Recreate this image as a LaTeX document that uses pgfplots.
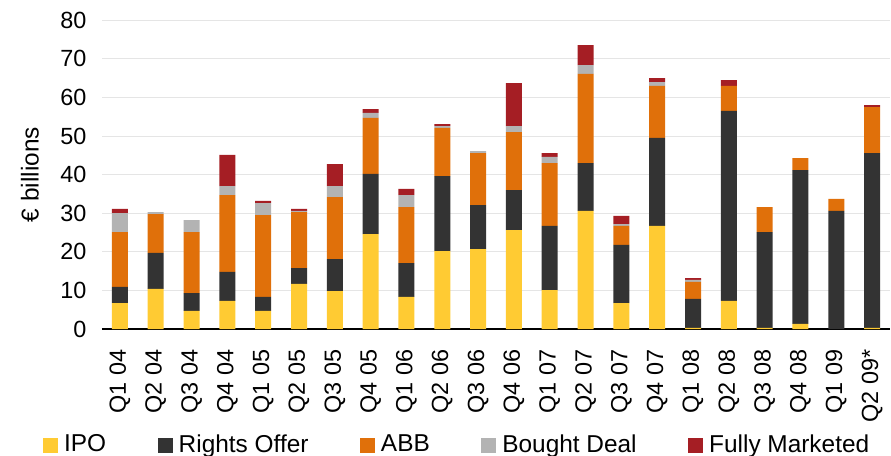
\documentclass[border=0pt]{standalone}
\usepackage{pgfplots}
\pgfplotsset{compat=1.18}
\usepackage{pgfplotstable}
\usepackage{fontspec}
\setmainfont{Liberation Sans}
\definecolor{cipo}{HTML}{FFCB33}
\definecolor{cro}{HTML}{333333}
\definecolor{cabb}{HTML}{E0700A}
\definecolor{cbd}{HTML}{B3B3B3}
\definecolor{cfm}{HTML}{A51E24}
\pgfplotstableread{
x IPO RO ABB BD FM
0 6.7 4.2 14.2 4.9 1.1
1 10.4 9.3 10.1 0.5 0
2 4.7 4.6 15.8 3.1 0
3 7.3 7.5 19.9 2.3 8.1
4 4.7 3.6 21.2 3.1 0.6
5 11.7 4.1 14.5 0.3 0.5
6 9.8 8.3 16.1 2.8 5.7
7 24.6 15.6 14.5 1.3 1.0
8 8.3 8.8 14.5 3.1 1.6
9 20.2 19.4 12.5 0.5 0.5
10 20.7 11.4 13.5 0.5 0
11 25.6 10.4 15.0 1.6 11.1
12 10.1 16.6 16.3 1.6 1.0
13 30.6 12.4 23.1 2.3 5.2
14 6.7 15.1 4.9 0.5 2.1
15 26.7 22.8 13.5 1.0 1.0
16 0.3 7.5 4.4 0.5 0.5
17 7.3 49.2 6.5 0 1.5
18 0.3 24.8 6.5 0 0
19 1.3 39.9 3.1 0 0
20 0 30.6 3.1 0 0
21 0.3 45.3 11.9 0 0.5
}\datatable
\begin{document}
\begin{tikzpicture}[font=\fontsize{23.5}{27}\selectfont]
\path[use as bounding box] (-102bp,-127bp) rectangle (789bp,329bp);
\begin{axis}[
  at={(0,0)}, anchor=south west,
  scale only axis, width=788bp, height=308.7bp,
  xmin=-0.5, xmax=21.5, ymin=0, ymax=80,
  ybar stacked, bar width=16bp,
  axis x line*=bottom, axis y line*=left,
  x axis line style={-, black, line width=1.3bp},
  y axis line style={draw=none},
  ytick={0,10,...,80},
  ytick style={draw=none},
  ymajorgrids, grid style={gray!20, line width=0.9bp},
  xtick={0,...,21},
  xticklabels={Q1 04,Q2 04,Q3 04,Q4 04,Q1 05,Q2 05,Q3 05,Q4 05,Q1 06,Q2 06,Q3 06,Q4 06,Q1 07,Q2 07,Q3 07,Q4 07,Q1 08,Q2 08,Q3 08,Q4 08,Q1 09,Q2 09*},
  xtick style={draw=none},
  xticklabel style={yshift=-17bp, rotate=90, anchor=east},
  extra x ticks={-0.5,0.5,...,21.5},
  extra x tick labels={},
  extra x tick style={grid=none, tick align=outside, major tick length=8bp,
     tick style={draw=black!60, line width=1bp}},
  yticklabel style={xshift=-12bp},
  /pgf/number format/assume math mode=true,
  ylabel={€ billions},
  ylabel style={at={(axis description cs:-0.0914,0.5)}, anchor=center, font=\fontsize{24.5}{28}\selectfont},
  legend columns=5,
  legend style={at={(rel axis cs:-0.0749,-0.3725)}, anchor=west, draw=none, fill=none,
     inner sep=0pt, nodes={inner sep=0pt}, font=\fontsize{24.5}{28}\selectfont,
     /tikz/every odd column/.append style={column sep=6bp},
     /tikz/every even column/.append style={column sep=51.5bp}},
  legend image code/.code={\fill[#1] (0bp,-9bp) rectangle (15bp,6bp);},
  legend cell align=left,
]
\addplot[fill=cipo, draw=none] table[x=x,y=IPO]{\datatable};
\addplot[fill=cro, draw=none] table[x=x,y=RO]{\datatable};
\addplot[fill=cabb, draw=none] table[x=x,y=ABB]{\datatable};
\addplot[fill=cbd, draw=none] table[x=x,y=BD]{\datatable};
\addplot[fill=cfm, draw=none] table[x=x,y=FM]{\datatable};
\legend{IPO,Rights Offer,ABB,Bought Deal,Fully Marketed}
\end{axis}
\end{tikzpicture}
\end{document}
